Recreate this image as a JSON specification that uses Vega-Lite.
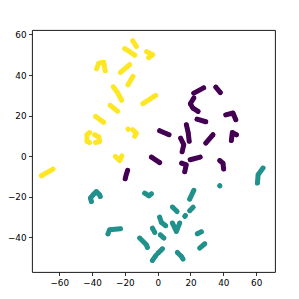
{
  "$schema": "https://vega.github.io/schema/vega-lite/v6.json",
  "autosize": {"type": "none"},
  "padding": {"left": 32, "top": 30, "right": 24, "bottom": 27},
  "width": 243,
  "height": 242,
  "background": "white",
  "config": {
    "view": {"stroke": "#000", "strokeWidth": 0.9},
    "axis": {"grid": false, "domain": false, "labelFont": "DejaVu Sans", "labelFontSize": 8.8, "labelColor": "#000", "tickColor": "#000", "tickSize": 3.5, "tickWidth": 0.8, "labelPadding": 2.5, "title": null}
  },
  "data": {"values": [
    {"s":"Y1a","c":2,"i":1,"x":-15.2,"y":56.9},{"s":"Y1a","c":2,"i":2,"x":-13.0,"y":54.1},
    {"s":"Y1b","c":2,"i":3,"x":-20.1,"y":53.0},{"s":"Y1b","c":2,"i":4,"x":-17.1,"y":51.5},{"s":"Y1b","c":2,"i":5,"x":-14.0,"y":49.8},
    {"s":"Y2","c":2,"i":6,"x":-6.7,"y":51.5},{"s":"Y2","c":2,"i":7,"x":-3.0,"y":50.0},{"s":"Y2","c":2,"i":8,"x":-5.5,"y":48.5},
    {"s":"Y3","c":2,"i":9,"x":-37.2,"y":43.1},{"s":"Y3","c":2,"i":10,"x":-36.0,"y":45.8},{"s":"Y3","c":2,"i":11,"x":-32.9,"y":46.3},{"s":"Y3","c":2,"i":12,"x":-32.0,"y":42.1},
    {"s":"Y4","c":2,"i":13,"x":-22.7,"y":41.3},{"s":"Y4","c":2,"i":14,"x":-17.1,"y":45.1},
    {"s":"Y5","c":2,"i":15,"x":-18.1,"y":35.2},{"s":"Y5","c":2,"i":16,"x":-15.1,"y":39.3},
    {"s":"Y6","c":2,"i":17,"x":-27.1,"y":34.2},{"s":"Y6","c":2,"i":18,"x":-24.4,"y":31.3},{"s":"Y6","c":2,"i":19,"x":-22.0,"y":27.6},
    {"s":"Y7","c":2,"i":20,"x":-9.0,"y":25.9},{"s":"Y7","c":2,"i":21,"x":-1.2,"y":30.0},
    {"s":"Y8","c":2,"i":22,"x":-29.0,"y":25.1},{"s":"Y8","c":2,"i":23,"x":-24.4,"y":22.2},
    {"s":"Y9","c":2,"i":24,"x":-37.8,"y":19.6},{"s":"Y9","c":2,"i":25,"x":-32.9,"y":16.7},
    {"s":"Y10a","c":2,"i":26,"x":-41.5,"y":11.7},{"s":"Y10a","c":2,"i":27,"x":-43.1,"y":10.6},{"s":"Y10a","c":2,"i":28,"x":-43.1,"y":7.3},{"s":"Y10a","c":2,"i":29,"x":-41.5,"y":6.8},
    {"s":"Y10b","c":2,"i":30,"x":-38.4,"y":10.6},{"s":"Y10b","c":2,"i":31,"x":-35.8,"y":9.5},{"s":"Y10b","c":2,"i":32,"x":-35.4,"y":7.3},{"s":"Y10b","c":2,"i":33,"x":-37.8,"y":6.8},
    {"s":"Y11a","c":2,"i":34,"x":-18.1,"y":13.4},{"s":"Y11a","c":2,"i":35,"x":-18.0,"y":13.3},
    {"s":"Y11b","c":2,"i":36,"x":-15.2,"y":13.1},{"s":"Y11b","c":2,"i":37,"x":-13.0,"y":11.3},{"s":"Y11b","c":2,"i":38,"x":-14.0,"y":9.9},
    {"s":"Y12","c":2,"i":39,"x":-25.8,"y":-0.1},{"s":"Y12","c":2,"i":40,"x":-23.2,"y":-2.1},{"s":"Y12","c":2,"i":41,"x":-21.8,"y":0.2},
    {"s":"Y13","c":2,"i":42,"x":-70.9,"y":-9.6},{"s":"Y13","c":2,"i":43,"x":-63.8,"y":-6.3},

    {"s":"P1","c":0,"i":44,"x":22.0,"y":31.1},{"s":"P1","c":0,"i":45,"x":28.0,"y":33.7},
    {"s":"P2","c":0,"i":46,"x":35.4,"y":34.1},{"s":"P2","c":0,"i":47,"x":38.2,"y":31.4},
    {"s":"P3","c":0,"i":48,"x":22.0,"y":28.7},{"s":"P3","c":0,"i":49,"x":19.9,"y":25.9},{"s":"P3","c":0,"i":50,"x":21.5,"y":23.7},{"s":"P3","c":0,"i":51,"x":24.6,"y":22.1},
    {"s":"P4","c":0,"i":52,"x":24.0,"y":18.3},{"s":"P4","c":0,"i":53,"x":29.3,"y":17.0},
    {"s":"P5","c":0,"i":54,"x":41.5,"y":20.4},{"s":"P5","c":0,"i":55,"x":45.9,"y":21.3},{"s":"P5","c":0,"i":56,"x":47.6,"y":18.0},
    {"s":"P6","c":0,"i":57,"x":17.5,"y":15.5},{"s":"P6","c":0,"i":58,"x":18.6,"y":11.6},{"s":"P6","c":0,"i":59,"x":19.2,"y":7.4},
    {"s":"P7","c":0,"i":60,"x":29.3,"y":6.5},{"s":"P7","c":0,"i":61,"x":33.7,"y":10.6},
    {"s":"P8","c":0,"i":62,"x":44.9,"y":7.8},{"s":"P8","c":0,"i":63,"x":45.5,"y":11.7},{"s":"P8","c":0,"i":64,"x":48.0,"y":10.6},
    {"s":"P9","c":0,"i":65,"x":14.0,"y":8.9},{"s":"P9","c":0,"i":66,"x":15.9,"y":5.7},{"s":"P9","c":0,"i":67,"x":14.9,"y":2.2},
    {"s":"P10","c":0,"i":68,"x":19.8,"y":-1.7},{"s":"P10","c":0,"i":69,"x":25.9,"y":-0.4},
    {"s":"P11","c":0,"i":70,"x":37.8,"y":-2.1},{"s":"P11","c":0,"i":71,"x":39.8,"y":-3.4},{"s":"P11","c":0,"i":72,"x":40.2,"y":-6.3},
    {"s":"P12","c":0,"i":73,"x":14.6,"y":-3.4},{"s":"P12","c":0,"i":74,"x":17.4,"y":-4.2},{"s":"P12","c":0,"i":75,"x":16.5,"y":-7.6},
    {"s":"P13","c":0,"i":76,"x":1.2,"y":12.6},{"s":"P13","c":0,"i":77,"x":6.9,"y":10.6},
    {"s":"P14","c":0,"i":78,"x":-3.8,"y":-0.4},{"s":"P14","c":0,"i":79,"x":1.2,"y":-3.1},
    {"s":"P15","c":0,"i":80,"x":-18.3,"y":-6.9},{"s":"P15","c":0,"i":81,"x":-19.2,"y":-9.1},{"s":"P15","c":0,"i":82,"x":-19.8,"y":-11.1},

    {"s":"T1","c":1,"i":83,"x":-40.4,"y":-22.3},{"s":"T1","c":1,"i":84,"x":-41.0,"y":-20.6},{"s":"T1","c":1,"i":85,"x":-39.4,"y":-19.0},{"s":"T1","c":1,"i":86,"x":-37.4,"y":-17.4},{"s":"T1","c":1,"i":87,"x":-35.4,"y":-19.0},{"s":"T1","c":1,"i":88,"x":-35.0,"y":-19.8},
    {"s":"T2","c":1,"i":89,"x":-30.3,"y":-38.2},{"s":"T2","c":1,"i":90,"x":-29.3,"y":-36.2},{"s":"T2","c":1,"i":91,"x":-22.7,"y":-35.7},
    {"s":"T3","c":1,"i":92,"x":-11.0,"y":-40.3},{"s":"T3","c":1,"i":93,"x":-6.9,"y":-43.6},{"s":"T3","c":1,"i":94,"x":-6.3,"y":-44.9},
    {"s":"T4","c":1,"i":95,"x":-7.9,"y":-18.2},{"s":"T4","c":1,"i":96,"x":-5.3,"y":-19.5},{"s":"T4","c":1,"i":97,"x":-3.8,"y":-18.5},
    {"s":"T5","c":1,"i":98,"x":19.5,"y":-21.1},{"s":"T5","c":1,"i":99,"x":22.0,"y":-16.8},
    {"s":"T6","c":1,"i":100,"x":37.8,"y":-14.5},{"s":"T6","c":1,"i":101,"x":37.9,"y":-14.6},
    {"s":"T7","c":1,"i":102,"x":60.8,"y":-13.2},{"s":"T7","c":1,"i":103,"x":61.2,"y":-9.1},{"s":"T7","c":1,"i":104,"x":64.2,"y":-5.8},
    {"s":"T8","c":1,"i":105,"x":9.0,"y":-25.0},{"s":"T8","c":1,"i":106,"x":11.8,"y":-27.2},
    {"s":"T9a","c":1,"i":107,"x":16.5,"y":-29.6},{"s":"T9a","c":1,"i":108,"x":16.9,"y":-29.2},
    {"s":"T9b","c":1,"i":109,"x":19.5,"y":-26.8},{"s":"T9b","c":1,"i":110,"x":21.6,"y":-25.1},
    {"s":"T10","c":1,"i":111,"x":1.2,"y":-30.0},{"s":"T10","c":1,"i":112,"x":2.3,"y":-32.6},{"s":"T10","c":1,"i":113,"x":4.9,"y":-34.2},
    {"s":"T11","c":1,"i":114,"x":9.0,"y":-32.9},{"s":"T11","c":1,"i":115,"x":11.4,"y":-37.0},{"s":"T11","c":1,"i":116,"x":13.4,"y":-32.9},
    {"s":"T12","c":1,"i":117,"x":-3.2,"y":-35.4},{"s":"T12","c":1,"i":118,"x":-1.8,"y":-37.5},
    {"s":"T13","c":1,"i":119,"x":1.6,"y":-38.7},{"s":"T13","c":1,"i":120,"x":3.8,"y":-40.3},
    {"s":"T14","c":1,"i":121,"x":24.2,"y":-38.2},{"s":"T14","c":1,"i":122,"x":26.6,"y":-37.2},
    {"s":"T16","c":1,"i":123,"x":25.6,"y":-45.2},{"s":"T16","c":1,"i":124,"x":28.7,"y":-43.1},
    {"s":"T17","c":1,"i":125,"x":0.2,"y":-47.7},{"s":"T17","c":1,"i":126,"x":2.9,"y":-45.6},
    {"s":"T18","c":1,"i":127,"x":-3.2,"y":-51.3},{"s":"T18","c":1,"i":128,"x":-1.2,"y":-49.0},
    {"s":"T19","c":1,"i":129,"x":12.0,"y":-47.4},{"s":"T19","c":1,"i":130,"x":14.5,"y":-49.4},{"s":"T19","c":1,"i":131,"x":15.4,"y":-50.6}
  ]},
  "encoding": {
    "x": {"field": "x", "type": "quantitative", "scale": {"domain": [-76.6, 71.5], "nice": false, "zero": false}, "axis": {"values": [-60, -40, -20, 0, 20, 40, 60]}},
    "y": {"field": "y", "type": "quantitative", "scale": {"domain": [-57.0, 62.2], "nice": false, "zero": false}, "axis": {"values": [-40, -20, 0, 20, 40, 60]}},
    "color": {"field": "c", "type": "nominal", "scale": {"domain": [0, 1, 2], "range": ["#440154", "#21918c", "#fde725"]}, "legend": null}
  },
  "layer": [
    {"mark": {"type": "line", "strokeWidth": 5, "strokeCap": "round", "strokeJoin": "round"}, "encoding": {"detail": {"field": "s"}, "order": {"field": "i"}}},
    {"mark": {"type": "circle", "size": 20, "opacity": 1}}
  ]
}
